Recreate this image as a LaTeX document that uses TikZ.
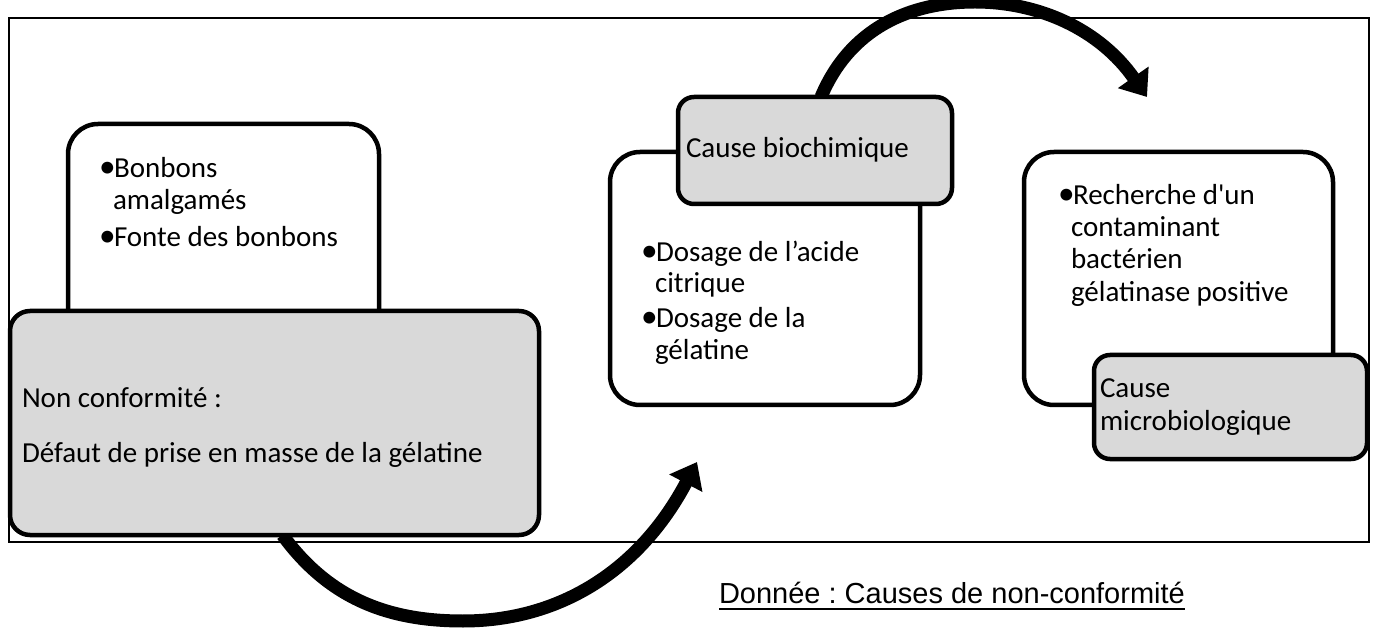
\documentclass[tikz,border=0pt]{standalone}
\usepackage{fontspec}
\setmainfont{Carlito}
\newfontfamily\capfont{Liberation Sans}
\usetikzlibrary{arrows.meta}
\definecolor{boxgray}{HTML}{D9D9D9}
\pgfdeclarelayer{bg}
\pgfsetlayers{bg,main}
\frenchspacing
\begin{document}
\begin{tikzpicture}[x=1pt,y=-1pt,
  framebox/.style={draw=black, line width=2pt, inner sep=0pt, outer sep=0pt, anchor=north west},
  wbox/.style={draw=black, fill=white, line width=4.5pt, rounded corners=30pt, inner sep=0pt, outer sep=0pt, anchor=north west},
  gbox/.style={draw=black, fill=boxgray, line width=4.5pt, rounded corners=#1, inner sep=0pt, outer sep=0pt, anchor=north west},
  txt/.style={font=\fontsize{29}{32}\selectfont, inner sep=0pt, outer sep=0pt, anchor=base west},
  captxt/.style={font=\capfont\fontsize{29}{32}\selectfont, inner sep=0pt, outer sep=0pt, anchor=base west},
  bigarrow/.style={line width=13pt, -{Triangle[length=24pt,width=36pt]}}
]
\useasboundingbox (0,0) rectangle (1377,628);
\newcommand{\bulitem}{\makebox[15pt][l]{\scalebox{1.15}{•}}}

% boxes
\node[wbox, minimum width=311pt, minimum height=230pt] (A) at (68,124) {};
\node[gbox=20pt, minimum width=529pt, minimum height=224pt] (B) at (10,311) {};
\node[wbox, minimum width=310pt, minimum height=253pt] (C) at (610,152) {};
\node[gbox=16pt, minimum width=274pt, minimum height=107pt] (D) at (678,97) {};
\node[wbox, minimum width=309pt, minimum height=253pt] (E) at (1024,152) {};
\node[gbox=16pt, minimum width=273pt, minimum height=104pt] (F) at (1094,355) {};

% texts
\node[txt] (a1) at (99,178) {\bulitem Bonbons};
\node[txt] (a2) at (113,210) {amalgamés};
\node[txt] (a3) at (99,247) {\bulitem Fonte des bonbons};

\node[txt] (b1) at (22,407) {Non conformité :};
\node[txt] (b2) at (22,462) {Défaut de prise en masse de la gélatine};

\node[txt] (c1) at (641,262) {\bulitem Dosage de l’acide};
\node[txt] (c2) at (655,293) {citrique};
\node[txt] (c3) at (641,328) {\bulitem Dosage de la};
\node[txt] (c4) at (655,360) {gélatine};

\node[txt] (d1) at (686,158) {Cause biochimique};

\node[txt] (e1) at (1058,205) {\bulitem Recherche d\textquotesingle un};
\node[txt] (e2) at (1071,237) {contaminant};
\node[txt] (e3) at (1071,269) {bactérien};
\node[txt] (e4) at (1071,302) {gélatinase positive};

\node[txt] (f1) at (1100,398) {Cause};
\node[txt] (f2) at (1100,430) {microbiologique};

\node[captxt] (cap) at (719,603) {Donnée : Causes de non-conformité};
\draw[line width=2.8pt] ([yshift=-6pt]cap.base west) -- ([yshift=-6pt]cap.base east);

\coordinate (t1) at (697,462);
\coordinate (t2) at (1147,97);

\begin{pgfonlayer}{bg}
\node[framebox, minimum width=1360pt, minimum height=524pt] (frame) at (9,18) {};
\draw[bigarrow] ([xshift=8pt]B.south) .. controls (330,600) and (390,621) .. (463,621)
  .. controls (560,621) and (640,570) .. (t1);
\draw[bigarrow] ([xshift=6pt]D.north) .. controls (850,28) and (910,2) .. (975,2)
  .. controls (1040,2) and (1100,30) .. (t2);
\end{pgfonlayer}
\end{tikzpicture}
\end{document}
